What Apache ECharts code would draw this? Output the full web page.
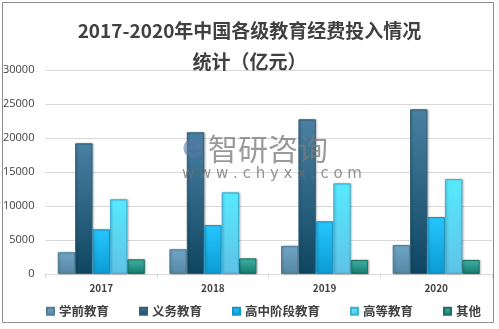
<!DOCTYPE html>
<html><head><meta charset="utf-8">
<script src="https://cdn.jsdelivr.net/npm/echarts@6/dist/echarts.min.js"></script>
<style>html,body{margin:0;padding:0;background:#fff}#c{width:499px;height:329px}</style>
</head><body><div id="c"></div>
<script>
const categories = ['2017', '2018', '2019', '2020'];
const seriesNames = ['学前教育', '义务教育', '高中阶段教育', '高等教育', '其他'];
const preschool = [3200, 3640, 4120, 4260];
const compulsory = [19220, 20840, 22750, 24220];
const highSchool = [6570, 7200, 7750, 8380];
const higher = [10990, 12010, 13330, 13970];
const other = [2160, 2300, 2060, 2060];
const yTicks = [0, 5000, 10000, 15000, 20000, 25000, 30000];

const values = [preschool, compulsory, highSchool, higher, other];
const grads = [
  ['#6fa6c6', '#5787a3', '#4f7f99'],
  ['#4a80a2', '#0e4661', '#2f5f7a'],
  ['#26c6ff', '#0c9bd3', '#1a94c6'],
  ['#57eaff', '#5fc2e6', '#3fb0d0'],
  ['#40b3a3', '#147a6d', '#1d6f66']
];
const font = '"Noto Sans CJK SC", "Noto Sans", sans-serif';
const chart = echarts.init(document.getElementById('c'), null, {renderer: 'canvas'});
chart.setOption({
  animation: false,
  backgroundColor: '#fff',
  title: {
    text: '2017-2020年中国各级教育经费投入情况\n统计（亿元）',
    left: 'center', top: 10,
    textStyle: {fontFamily: font, fontSize: 19, fontWeight: 'bold', color: '#404040', lineHeight: 31}
  },
  legend: {
    data: seriesNames, left: 41, top: 300, itemWidth: 7, itemHeight: 7, itemGap: 30,
    icon: 'rect',
    textStyle: {fontFamily: font, fontSize: 12.5, color: '#404040', fontWeight: 'bold'}
  },
  grid: {left: 45, right: 7, top: 70, bottom: 55},
  xAxis: {
    type: 'category', data: categories,
    axisLine: {lineStyle: {color: '#d9d9d9'}},
    axisTick: {show: true, length: 4, lineStyle: {color: '#d9d9d9'}},
    axisLabel: {fontFamily: font, fontSize: 10, color: '#404040', fontWeight: 'bold', margin: 9}
  },
  yAxis: {
    type: 'value', min: yTicks[0], max: yTicks[yTicks.length - 1], interval: yTicks[1] - yTicks[0],
    axisLine: {show: false}, axisTick: {show: false},
    splitLine: {lineStyle: {color: '#d9d9d9'}},
    axisLabel: {fontFamily: '"Open Sans", sans-serif', fontSize: 11, color: '#404040', margin: 11,
      formatter: v => String(v)}
  },
  graphic: [
    {type: 'rect', shape: {x: 2.5, y: 2.5, width: 491, height: 320}, style: {fill: 'none', stroke: '#8c8c8c', lineWidth: 1}, z: 10},
    {type: 'text', left: 208, top: 134, z: 20, style: {text: '智研咨询', font: '30px "Noto Sans CJK SC"', fill: 'rgba(120,120,120,0.75)'}},
    {type: 'text', left: 182, top: 167, z: 20, style: {text: 'w w w . c h y x x . c o m', font: '15px "DejaVu Sans"', fill: 'rgba(110,110,110,0.75)'}},
    {type: 'text', left: 182, top: 133, z: 20, style: {text: 'e', font: 'bold 32px "DejaVu Sans"', fill: 'rgba(90,120,170,0.6)'}}
  ],
  series: seriesNames.map((n, i) => ({
    name: n, type: 'bar', data: values[i], barGap: '0%', barCategoryGap: '22%',
    itemStyle: {
      color: new echarts.graphic.LinearGradient(0, 0, 0, 1, [{offset: 0, color: grads[i][0]}, {offset: 1, color: grads[i][1]}]),
      borderColor: grads[i][2], borderWidth: 1,
      shadowColor: 'rgba(0,0,0,0.25)', shadowBlur: 2, shadowOffsetX: 1, shadowOffsetY: 0
    }
  }))
});
</script></body></html>
